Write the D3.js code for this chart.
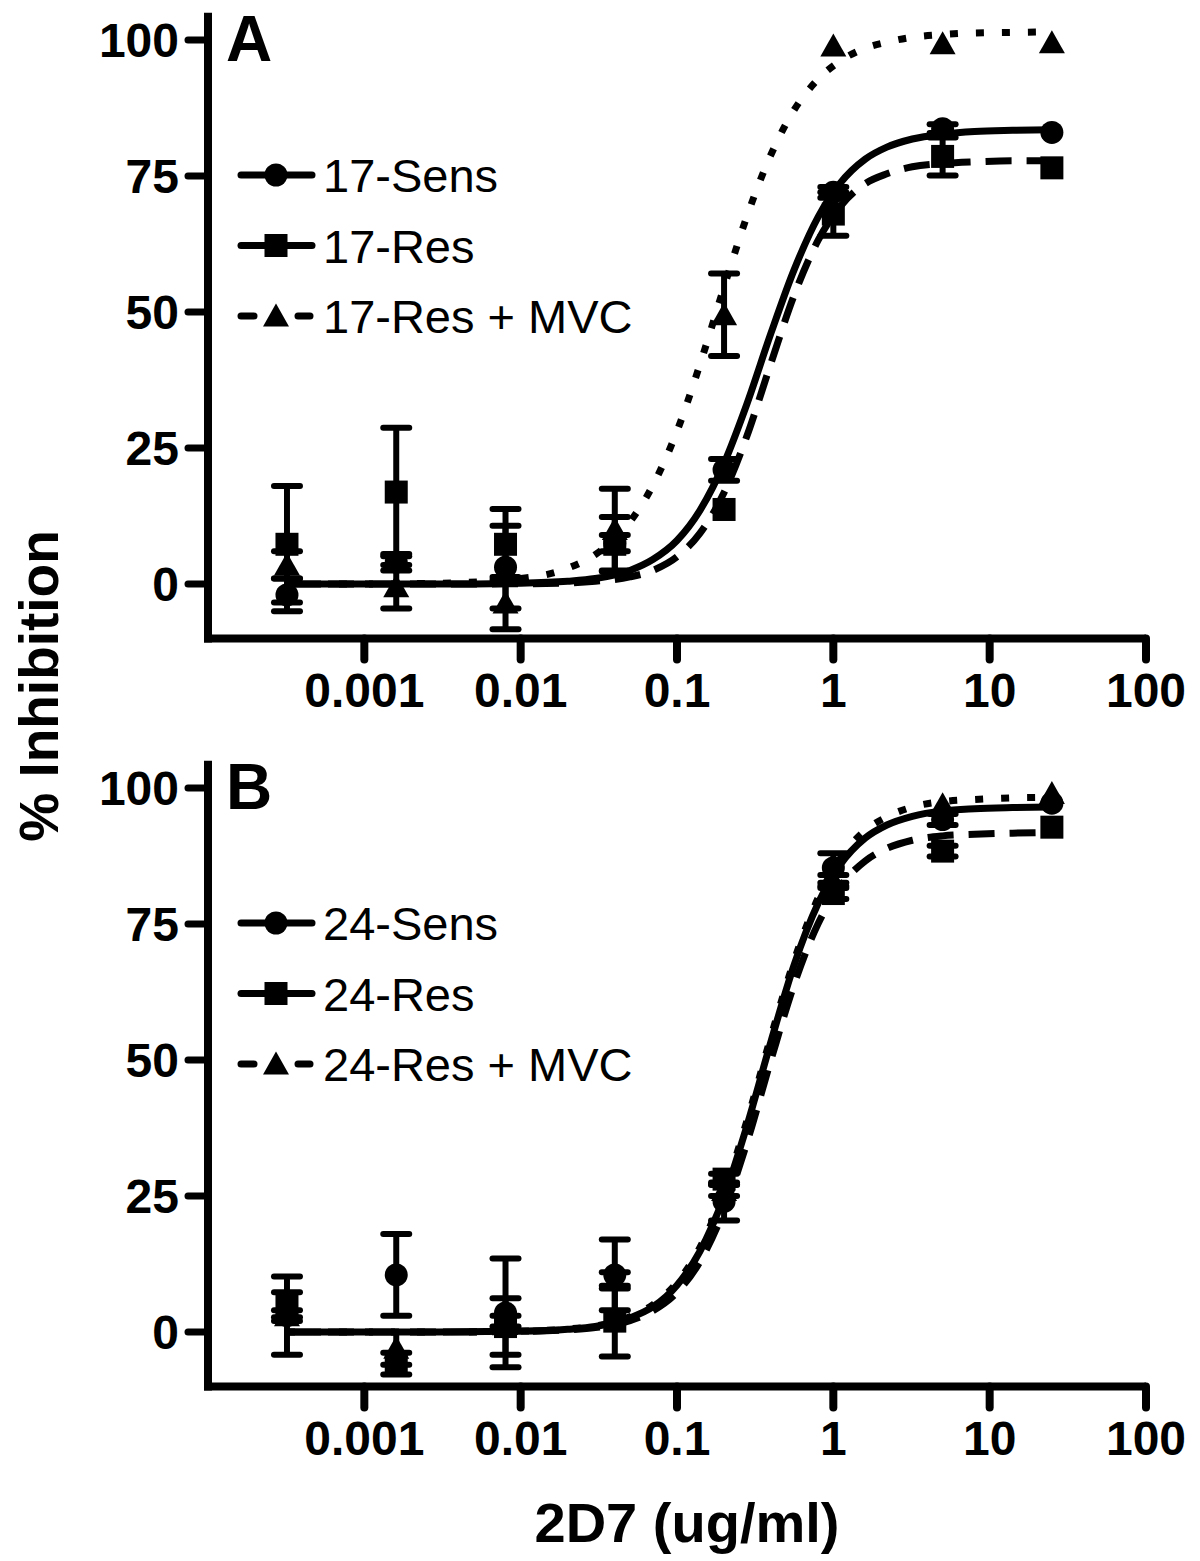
<!DOCTYPE html>
<html>
<head>
<meta charset="utf-8">
<script src="https://cdn.jsdelivr.net/npm/d3@7"></script>
<style>
  html, body { margin: 0; padding: 0; background: #fff; }
  svg { display: block; }
  text { font-family: "Liberation Sans", Arial, sans-serif; fill: #000; }
</style>
</head>
<body>
<svg id="chart" width="1200" height="1561"></svg>
<script>
// ---------------- data ----------------
const conc = [0.00032, 0.0016, 0.008, 0.04, 0.2, 1, 5, 25];
const xTicks = [0.001, 0.01, 0.1, 1, 10, 100];
const xTickLabels = ["0.001", "0.01", "0.1", "1", "10", "100"];
const yTicks = [0, 25, 50, 75, 100];
const yTickLabels = ["0", "25", "50", "75", "100"];

const namesA = ["17-Sens", "17-Res", "17-Res + MVC"];
const namesB = ["24-Sens", "24-Res", "24-Res + MVC"];

// Panel A measured points (mean, error)
const aSens = [-2, 4, 3.1, 7.5, 21, 72, 83.7, 83];
const aSensErr = [3, 1.5, 7.6, 1.5, 2, 1, 0.8, 0.5];
const aRes = [7.3, 16.9, 7.3, 7.3, 13.7, 68, 78.6, 76.5];
const aResErr = [10.7, 11.8, 6.5, 5, 0.5, 4, 3.5, 0.5];
const aMvc = [3.5, -0.5, -3.5, 10, 49.5, 98.9, 99.3, 99.5];
const aMvcErr = [2.5, 4, 4.8, 7.5, 7.6, 0.5, 0.5, 0.5];

// Panel B measured points (mean, error)
const bSens = [3, 10.5, 3.5, 10.5, 24, 85.3, 94.2, 97.2];
const bSensErr = [7.2, 7.5, 10, 6.5, 3.5, 2.7, 1, 0.5];
const bRes = [5, -5.8, 1, 2, 28.1, 80.6, 88.4, 92.8];
const bResErr = [2.3, 2, 5.2, 6.5, 1, 1, 1, 0.5];
const bMvc = [3, -3, 2, 9.5, 26, 83, 96.9, 99];
const bMvcErr = [1, 3, 1, 1.5, 1, 1, 0.5, 0.5];

// Fitted curves at these concentrations
const curveConc = [0.00032, 0.001, 0.003, 0.01, 0.02, 0.03, 0.05, 0.07, 0.1, 0.14, 0.2, 0.28,
                   0.4, 0.56, 0.8, 1.1, 1.6, 2.2, 3.2, 5, 8, 14, 25];
const aSensFit = [0, 0, 0, 0.15, 0.5, 1.0, 2.5, 4.5, 8.0, 13.5, 22.2, 33.1,
                  46.2, 57.7, 67.5, 73.6, 78.1, 80.3, 81.8, 82.7, 83.2, 83.4, 83.5];
const aResFit = [0, 0, 0, 0.05, 0.2, 0.5, 1.3, 2.5, 5.0, 9.3, 16.8, 27.2,
                 40.7, 53.0, 63.2, 69.3, 73.6, 75.4, 76.7, 77.3, 77.6, 77.8, 77.8];
const aMvcFit = [0, 0, 0.14, 1.0, 2.9, 5.4, 11.4, 18.1, 28.1, 40.3, 54.6, 67.6,
                 79.0, 87.1, 92.8, 96.1, 98.5, 99.6, 100.5, 101.0, 101.3, 101.4, 101.5];
const bSensFit = [0, 0, 0, 0.14, 0.5, 1.0, 2.6, 4.6, 8.6, 14.8, 24.9, 37.9,
                  53.5, 67.4, 78.8, 85.8, 90.8, 93.2, 94.8, 95.8, 96.2, 96.4, 96.5];
const bResFit = [0, 0, 0, 0.1, 0.4, 0.8, 2.1, 3.9, 7.3, 12.9, 22.4, 34.8,
                 50.1, 63.8, 75.1, 81.8, 86.6, 88.9, 90.4, 91.2, 91.5, 91.7, 91.8];
const bMvcFit = [0, 0, 0, 0.16, 0.55, 1.1, 2.8, 5.0, 9.1, 15.5, 25.8, 38.8,
                 54.4, 68.2, 79.8, 86.9, 92.2, 94.7, 96.5, 97.5, 97.9, 98.2, 98.3];

// ---------------- drawing ----------------
const svg = d3.select("#chart");
const x = d3.scaleLog().domain([1e-4, 100]).range([208, 1146]);

const trianglePath = "M0,-12.5 L13,10.5 L-13,10.5 Z";
function drawMarker(g, type, cx, cy) {
  if (type === 0) {
    g.append("circle").attr("cx", cx).attr("cy", cy).attr("r", 11.5).attr("fill", "#000");
  } else if (type === 1) {
    g.append("rect").attr("x", cx - 11.5).attr("y", cy - 11.5)
      .attr("width", 23).attr("height", 23).attr("fill", "#000");
  } else {
    g.append("path").attr("d", trianglePath)
      .attr("transform", `translate(${cx},${cy})`).attr("fill", "#000");
  }
}

const dashStyles = [null, "26,15", "8,18"];

function drawPanel(offsetY, label, names, means, errs, fits) {
  const g = svg.append("g");
  const y = d3.scaleLinear().domain([-10, 105]).range([638.4 + offsetY, 12.8 + offsetY]);
  const axisY = 638.4 + offsetY;

  // axes lines
  g.append("line").attr("x1", 208).attr("x2", 208)
    .attr("y1", y(105)).attr("y2", axisY + 4)
    .attr("stroke", "#000").attr("stroke-width", 8);
  g.append("line").attr("x1", 204).attr("x2", 1146)
    .attr("y1", axisY).attr("y2", axisY)
    .attr("stroke", "#000").attr("stroke-width", 8);

  // y ticks
  yTicks.forEach((t, i) => {
    g.append("line").attr("x1", 188).attr("x2", 208)
      .attr("y1", y(t)).attr("y2", y(t))
      .attr("stroke", "#000").attr("stroke-width", 7).attr("stroke-linecap", "round");
    g.append("text").attr("x", 179).attr("y", y(t) + 17)
      .attr("text-anchor", "end").attr("font-size", 48).attr("font-weight", "bold")
      .text(yTickLabels[i]);
  });

  // x ticks
  xTicks.forEach((t, i) => {
    g.append("line").attr("x1", x(t)).attr("x2", x(t))
      .attr("y1", axisY).attr("y2", axisY + 21)
      .attr("stroke", "#000").attr("stroke-width", 8).attr("stroke-linecap", "round");
    g.append("text").attr("x", x(t)).attr("y", axisY + 69)
      .attr("text-anchor", "middle").attr("font-size", 48).attr("font-weight", "bold")
      .text(xTickLabels[i]);
  });

  // panel label
  g.append("text").attr("x", 226).attr("y", 61 + offsetY)
    .attr("font-size", 64).attr("font-weight", "bold").text(label);

  // error bars
  for (let s = 0; s < 3; s++) {
    conc.forEach((c, i) => {
      const cx = x(c), m = means[s][i], e = errs[s][i];
      if (e <= 0.6) return;
      g.append("line").attr("x1", cx).attr("x2", cx)
        .attr("y1", y(m - e)).attr("y2", y(m + e))
        .attr("stroke", "#000").attr("stroke-width", 6);
      [m - e, m + e].forEach(v => {
        g.append("line").attr("x1", cx - 13).attr("x2", cx + 13)
          .attr("y1", y(v)).attr("y2", y(v))
          .attr("stroke", "#000").attr("stroke-width", 6).attr("stroke-linecap", "round");
      });
    });
  }

  // fitted curves
  const line = d3.line()
    .x((d, i) => x(curveConc[i]))
    .y(d => y(d))
    .curve(d3.curveMonotoneX);
  for (let s = 0; s < 3; s++) {
    const p = g.append("path").attr("d", line(fits[s]))
      .attr("fill", "none").attr("stroke", "#000").attr("stroke-width", 7);
    if (dashStyles[s]) p.attr("stroke-dasharray", dashStyles[s]);
  }

  // markers
  for (let s = 0; s < 3; s++) {
    conc.forEach((c, i) => drawMarker(g, s, x(c), y(means[s][i])));
  }

  // legend
  const legendRows = [175 + offsetY, 245.5 + offsetY, 316 + offsetY];
  names.forEach((n, s) => {
    const ly = legendRows[s];
    if (s < 2) {
      g.append("line").attr("x1", 241).attr("x2", 312).attr("y1", ly).attr("y2", ly)
        .attr("stroke", "#000").attr("stroke-width", 7).attr("stroke-linecap", "round");
    } else {
      [[241, 254], [298, 310]].forEach(seg => {
        g.append("line").attr("x1", seg[0]).attr("x2", seg[1]).attr("y1", ly).attr("y2", ly)
          .attr("stroke", "#000").attr("stroke-width", 7).attr("stroke-linecap", "round");
      });
    }
    drawMarker(g, s, 276, ly);
    g.append("text").attr("x", 323).attr("y", ly + 17)
      .attr("font-size", 47).text(n);
  });
}

drawPanel(0, "A", namesA, [aSens, aRes, aMvc], [aSensErr, aResErr, aMvcErr], [aSensFit, aResFit, aMvcFit]);
drawPanel(748, "B", namesB, [bSens, bRes, bMvc], [bSensErr, bResErr, bMvcErr], [bSensFit, bResFit, bMvcFit]);

// axis titles
svg.append("text").attr("x", 687).attr("y", 1542)
  .attr("text-anchor", "middle").attr("font-size", 56).attr("font-weight", "bold")
  .text("2D7 (ug/ml)");
svg.append("text").attr("transform", "translate(58,686) rotate(-90)")
  .attr("text-anchor", "middle").attr("font-size", 55).attr("font-weight", "bold")
  .text("% Inhibition");
</script>
</body>
</html>
